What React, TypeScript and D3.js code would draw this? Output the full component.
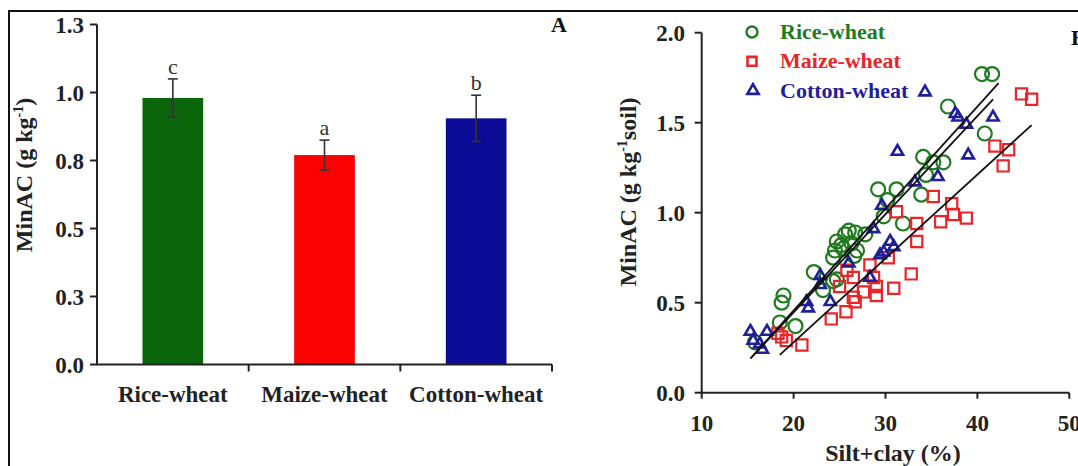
import React from "react";
import * as d3 from "d3";

// ---------- Panel A data ----------
const categories = ["Rice-wheat", "Maize-wheat", "Cotton-wheat"];
const barValues = [0.98, 0.77, 0.905];
const barErrors = [0.07, 0.055, 0.085];
const barLetters = ["c", "a", "b"];
const barColors = ["#0b660b", "#fb0303", "#0b0b95"];
const leftTickValues = [0, 0.25, 0.5, 0.75, 1.0, 1.25];
const leftTickLabels = ["0.0", "0.3", "0.5", "0.8", "1.0", "1.3"];

// ---------- Panel B data ----------
const seriesNames = ["Rice-wheat", "Maize-wheat", "Cotton-wheat"];
const seriesColors = ["#1e7b1e", "#e8262a", "#1f1f9a"];
const riceWheat: [number, number][] = [
  [15.8, 0.28], [18.5, 0.39], [20.2, 0.37], [18.7, 0.5], [18.9, 0.54], [22.2, 0.67],
  [23.2, 0.57], [24.3, 0.62], [24.7, 0.63], [24.3, 0.75], [24.5, 0.79], [24.7, 0.84],
  [25.2, 0.82], [25.6, 0.88], [26.0, 0.9], [26.3, 0.83], [26.7, 0.89], [26.9, 0.79],
  [26.6, 0.76], [25.4, 0.8], [27.8, 0.88], [29.8, 0.98], [29.2, 1.13], [31.2, 1.13],
  [30.2, 1.07], [31.9, 0.94], [33.9, 1.1], [34.1, 1.31], [35.2, 1.28], [36.3, 1.28],
  [34.4, 1.21], [36.8, 1.59], [40.8, 1.44], [40.5, 1.77], [41.6, 1.77],
];
const maizeWheat: [number, number][] = [
  [18.3, 0.33], [18.7, 0.31], [19.2, 0.29], [20.9, 0.265], [24.1, 0.41], [25.7, 0.45],
  [26.7, 0.505], [26.5, 0.53], [27.6, 0.56], [29.0, 0.59], [29.0, 0.54], [30.9, 0.58],
  [32.8, 0.66], [33.4, 0.84], [28.3, 0.71], [26.5, 0.64], [25.8, 0.68], [25.0, 0.59],
  [28.7, 0.64], [30.3, 0.75], [31.2, 1.005], [33.4, 0.94], [35.2, 1.09], [36.0, 0.95],
  [37.2, 1.05], [37.4, 0.99], [38.8, 0.97], [41.9, 1.37], [43.4, 1.35], [42.8, 1.26],
  [44.8, 1.66], [45.9, 1.63],
];
const cottonWheat: [number, number][] = [
  [15.3, 0.34], [17.1, 0.34], [16.3, 0.27], [15.6, 0.29], [16.6, 0.24], [21.4, 0.505],
  [21.6, 0.47], [24.0, 0.505], [22.9, 0.6], [22.9, 0.65], [26.0, 0.72], [28.3, 0.64],
  [29.8, 0.78], [30.5, 0.84], [30.9, 0.81], [29.4, 0.765], [28.7, 0.91], [29.6, 1.04],
  [33.2, 1.17], [35.7, 1.2], [31.3, 1.34], [39.0, 1.32], [37.6, 1.55], [37.9, 1.53],
  [38.8, 1.49], [41.7, 1.53], [34.3, 1.67],
];
const riceTrend: [number, number][] = [[15.3, 0.19], [42.3, 1.72]];
const cottonTrend: [number, number][] = [[15.3, 0.19], [41.7, 1.63]];
const maizeTrend: [number, number][] = [[18.5, 0.21], [45.9, 1.487]];
const rightXTicks = [10, 20, 30, 40, 50];
const rightXTickLabels = ["10", "20", "30", "40", "50"];
const rightYTicks = [0, 0.5, 1.0, 1.5, 2.0];
const rightYTickLabels = ["0.0", "0.5", "1.0", "1.5", "2.0"];

const FONT = "'Liberation Serif', 'Times New Roman', serif";
const AX = "#222";

export default function App() {
  // Panel A scales
  const xL = d3.scaleBand<string>().domain(categories).range([97, 552]).paddingInner(0.6).paddingOuter(0.3);
  const yL = d3.scaleLinear().domain([0, 1.25]).range([364.5, 24.5]);
  const step = xL.step();
  const boundaries = [1, 2, 3].map((i) => 97 + i * step);

  // Panel B scales
  const xR = d3.scaleLinear().domain([10, 50]).range([701.7, 1069.3]);
  const yR = d3.scaleLinear().domain([0, 2]).range([392.7, 32.7]);
  const line = d3.line<[number, number]>().x((d) => xR(d[0])).y((d) => yR(d[1]));
  const sq = d3.symbol().type(d3.symbolSquare).size(125)()!;
  const tri = d3.symbol().type(d3.symbolTriangle).size(55)()!;

  return (
    <svg width={1078} height={466} style={{ position: "absolute", left: 0, top: 0, background: "#fff" }}
      fontFamily={FONT}>
      <rect x={0} y={0} width={1078} height={466} fill="#fff" />
      {/* frame */}
      <rect x={9} y={11} width={1200} height={600} fill="none" stroke="#111" strokeWidth={2} />

      {/* ===== Panel A ===== */}
      {categories.map((c, i) => {
        const x = xL(c)!;
        const w = xL.bandwidth();
        const cx = x + w / 2;
        const top = yL(barValues[i] + barErrors[i]);
        const bot = yL(barValues[i] - barErrors[i]);
        return (
          <g key={c}>
            <rect x={x} y={yL(barValues[i])} width={w} height={yL(0) - yL(barValues[i])} fill={barColors[i]} />
            <line x1={cx} x2={cx} y1={top} y2={bot} stroke="#333" strokeWidth={1.6} />
            <line x1={cx - 5} x2={cx + 5} y1={top} y2={top} stroke="#333" strokeWidth={1.6} />
            <line x1={cx - 5} x2={cx + 5} y1={bot} y2={bot} stroke="#333" strokeWidth={1.6} />
            <text x={cx} y={top - 5} textAnchor="middle" fontSize={22} fill="#333">{barLetters[i]}</text>
            <text x={cx} y={402} textAnchor="middle" fontSize={23} fontWeight="bold" fill="#222">{c}</text>
          </g>
        );
      })}
      <line x1={97} x2={97} y1={yL(1.25)} y2={yL(0)} stroke={AX} strokeWidth={2} />
      <line x1={96} x2={552} y1={yL(0)} y2={yL(0)} stroke={AX} strokeWidth={2} />
      {leftTickValues.map((v, i) => (
        <g key={v}>
          <line x1={90} x2={97} y1={yL(v)} y2={yL(v)} stroke={AX} strokeWidth={2} />
          <text x={84} y={yL(v) + 8} textAnchor="end" fontSize={23} fontWeight="bold" fill="#222">{leftTickLabels[i]}</text>
        </g>
      ))}
      {boundaries.map((b) => (
        <line key={b} x1={b} x2={b} y1={yL(0)} y2={yL(0) + 7} stroke={AX} strokeWidth={2} />
      ))}
      <text transform="translate(32,175) rotate(-90)" textAnchor="middle" fontSize={24} fontWeight="bold" fill="#222">
        MinAC (g kg<tspan fontSize={14} dy={-9}>-1</tspan><tspan dy={9}>)</tspan>
      </text>
      <text x={551} y={32} fontSize={22} fontWeight="bold" fill="#111">A</text>

      {/* ===== Panel B ===== */}
      <line x1={xR(10)} x2={xR(10)} y1={yR(2)} y2={yR(0)} stroke={AX} strokeWidth={2} />
      <line x1={xR(10) - 1} x2={xR(50)} y1={yR(0)} y2={yR(0)} stroke={AX} strokeWidth={2} />
      {rightYTicks.map((v, i) => (
        <g key={v}>
          <line x1={xR(10) - 7} x2={xR(10)} y1={yR(v)} y2={yR(v)} stroke={AX} strokeWidth={2} />
          <text x={685} y={yR(v) + 8} textAnchor="end" fontSize={23} fontWeight="bold" fill="#222">{rightYTickLabels[i]}</text>
        </g>
      ))}
      {rightXTicks.map((v, i) => (
        <g key={v}>
          <line x1={xR(v)} x2={xR(v)} y1={yR(0)} y2={yR(0) + 6} stroke={AX} strokeWidth={2} />
          <text x={xR(v)} y={431} textAnchor="middle" fontSize={23} fontWeight="bold" fill="#222">{rightXTickLabels[i]}</text>
        </g>
      ))}
      <text x={893} y={461} textAnchor="middle" fontSize={24} fontWeight="bold" fill="#222">Silt+clay (%)</text>
      <text transform="translate(636,192) rotate(-90)" textAnchor="middle" fontSize={24} fontWeight="bold" fill="#222">
        MinAC (g kg<tspan fontSize={14} dy={-9}>-1</tspan><tspan dy={9}>soil)</tspan>
      </text>
      <text x={1071} y={45} fontSize={22} fontWeight="bold" fill="#111">B</text>

      {/* points */}
      {riceWheat.map((d, i) => (
        <circle key={"r" + i} cx={xR(d[0])} cy={yR(d[1])} r={7} fill="none" stroke={seriesColors[0]} strokeWidth={2.2} />
      ))}
      {maizeWheat.map((d, i) => (
        <path key={"m" + i} d={sq} transform={`translate(${xR(d[0])},${yR(d[1])})`} fill="none" stroke={seriesColors[1]} strokeWidth={2.2} />
      ))}
      {cottonWheat.map((d, i) => (
        <path key={"c" + i} d={tri} transform={`translate(${xR(d[0])},${yR(d[1])})`} fill="none" stroke={seriesColors[2]} strokeWidth={2.6} />
      ))}
      {[riceTrend, cottonTrend, maizeTrend].map((t, i) => (
        <path key={"t" + i} d={line(t)!} fill="none" stroke="#111" strokeWidth={1.8} />
      ))}

      {/* legend */}
      {seriesNames.map((s, i) => {
        const y = 32 + i * 29.3;
        return (
          <g key={s}>
            {i === 0 && <circle cx={752} cy={y} r={5.5} fill="none" stroke={seriesColors[0]} strokeWidth={2.4} />}
            {i === 1 && <path d={d3.symbol().type(d3.symbolSquare).size(80)()!} transform={`translate(752,${y})`} fill="none" stroke={seriesColors[1]} strokeWidth={2.6} />}
            {i === 2 && <path d={tri} transform={`translate(753,${y})`} fill="none" stroke={seriesColors[2]} strokeWidth={2.6} />}
            <text x={780} y={y + 7} fontSize={22} fontWeight="bold" fill={seriesColors[i]}>{s}</text>
          </g>
        );
      })}
    </svg>
  );
}
